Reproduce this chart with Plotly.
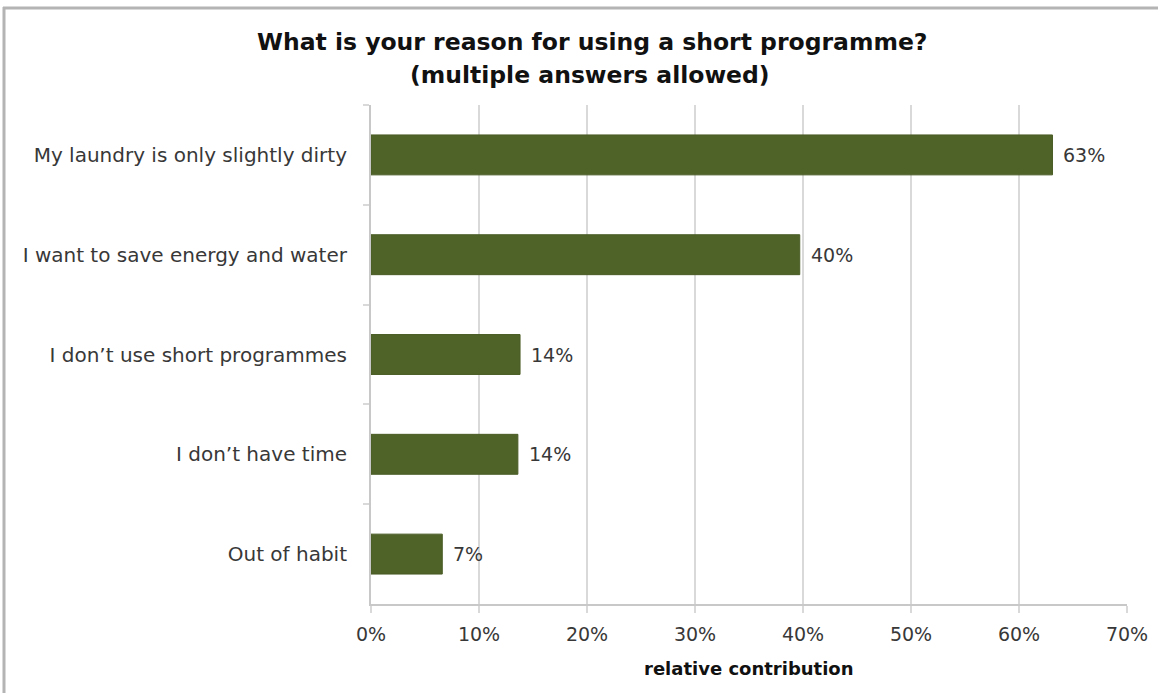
import plotly.graph_objects as go

categories = [
    "My laundry is only slightly dirty",
    "I want to save energy and water",
    "I don\u2019t use short programmes",
    "I don\u2019t have time",
    "Out of habit",
]
values = [0.631, 0.397, 0.138, 0.136, 0.066]
value_labels = ["63%", "40%", "14%", "14%", "7%"]
x_ticks = [0, 0.1, 0.2, 0.3, 0.4, 0.5, 0.6, 0.7]
x_tick_labels = ["0%", "10%", "20%", "30%", "40%", "50%", "60%", "70%"]

title_line1 = "What is your reason for using a short programme?"
title_line2 = "(multiple answers allowed)"
x_title = "relative contribution"

W, H = 1158, 693
L, R, T, B = 371, 31, 105, 89
PW, PH = W - L - R, H - T - B

def px_x(px):
    return (px - L) / PW

def px_y(py):
    return 1 - (py - T) / PH

fig = go.Figure()
fig.add_trace(go.Bar(
    y=categories,
    x=values,
    orientation="h",
    marker=dict(color="#4F6228", line=dict(color="#4A5C25", width=1)),
    width=0.4,
    hoverinfo="skip",
))

annotations = []
for c, v, lab in zip(categories, values, value_labels):
    annotations.append(dict(
        x=v, y=c, xref="x", yref="y", text=lab, showarrow=False,
        xanchor="left", yanchor="middle", xshift=9,
        font=dict(family="DejaVu Sans", size=19, color="#383838"),
    ))
annotations.append(dict(
    x=px_x(592), y=px_y(42), xref="paper", yref="paper", text="<b>" + title_line1 + "</b>",
    showarrow=False, xanchor="center", yanchor="middle",
    font=dict(family="DejaVu Sans", size=23.5, color="#111111"),
))
annotations.append(dict(
    x=px_x(590), y=px_y(75), xref="paper", yref="paper", text="<b>" + title_line2 + "</b>",
    showarrow=False, xanchor="center", yanchor="middle",
    font=dict(family="DejaVu Sans", size=23.5, color="#111111"),
))
annotations.append(dict(
    x=0.5, y=px_y(668), xref="paper", yref="paper", text="<b>" + x_title + "</b>",
    showarrow=False, xanchor="center", yanchor="middle",
    font=dict(family="DejaVu Sans", size=18, color="#111111"),
))

fig.update_layout(
    width=W,
    height=H,
    paper_bgcolor="white",
    plot_bgcolor="white",
    margin=dict(l=L, r=R, t=T, b=B, autoexpand=False),
    showlegend=False,
    xaxis=dict(
        range=[0, 0.7],
        tickvals=x_ticks,
        ticktext=x_tick_labels,
        showgrid=True,
        gridcolor="#d9d9d9",
        gridwidth=2,
        zeroline=False,
        showline=True,
        linecolor="#c8c8c8",
        linewidth=2,
        ticks="outside",
        ticklen=7,
        tickwidth=2,
        tickcolor="#d9d9d9",
        ticklabelstandoff=5,
        tickfont=dict(family="DejaVu Sans", size=19, color="#383838"),
    ),
    yaxis=dict(
        autorange="reversed",
        showgrid=False,
        zeroline=False,
        showline=True,
        linecolor="#c8c8c8",
        linewidth=2,
        ticks="outside",
        ticklen=6,
        tickwidth=2,
        tickcolor="#d9d9d9",
        tickson="boundaries",
        ticklabelstandoff=18,
        tickfont=dict(family="DejaVu Sans", size=20, color="#383838"),
    ),
    annotations=annotations,
    shapes=[
        dict(type="line", xref="paper", yref="paper",
             x0=px_x(3), x1=px_x(1170), y0=px_y(8), y1=px_y(8),
             line=dict(color="#b4b4b4", width=3)),
        dict(type="line", xref="paper", yref="paper",
             x0=px_x(4), x1=px_x(4), y0=px_y(7), y1=px_y(710),
             line=dict(color="#b4b4b4", width=3)),
    ],
)

fig.write_html("out.html", config={"displayModeBar": False},
               post_script="document.body.style.margin='0px';document.body.style.overflow='hidden';")
